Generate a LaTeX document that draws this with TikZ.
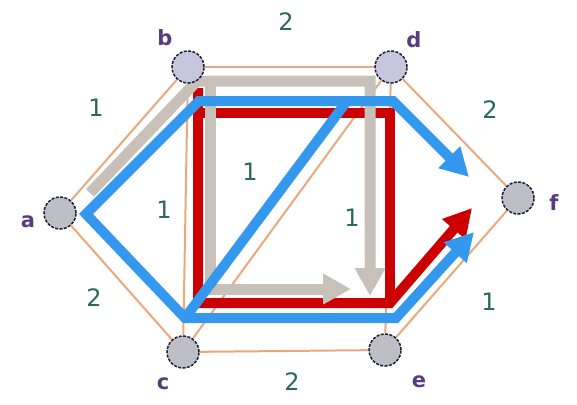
\documentclass[tikz,border=0pt]{standalone}
\usepackage{fontspec}
\setmainfont{DejaVu Sans}
\usetikzlibrary{arrows.meta}
\definecolor{edgeor}{RGB}{235,168,125}
\definecolor{pgray}{RGB}{200,193,186}
\definecolor{pred}{RGB}{204,0,0}
\definecolor{pblue}{RGB}{52,152,238}
\definecolor{vfill}{RGB}{190,190,198}
\definecolor{vfillb}{RGB}{198,198,220}
\definecolor{vline}{RGB}{30,30,60}
\definecolor{vlab}{RGB}{88,60,128}
\definecolor{wlab}{RGB}{44,104,92}
\pgfdeclarelayer{bg}
\pgfsetlayers{bg,main}
\tikzset{
  vtx/.style={circle, minimum size=32pt, inner sep=0pt, draw=vline, line width=1.5pt,
    dash pattern=on 3pt off 1.4pt, fill=vfill},
  vtxb/.style={vtx, fill=vfillb},
  vname/.style={text=vlab, font=\fontsize{21}{23}\selectfont\bfseries, inner sep=0pt},
  wname/.style={text=wlab, font=\fontsize{24}{26}\selectfont, inner sep=0pt},
  gedge/.style={draw=edgeor, line width=2pt},
  tip/.style={-{Triangle[length=28pt,width=29pt]}},
  gpath/.style={draw=pgray, line width=11pt, line join=miter},
  rpath/.style={draw=pred, line width=10pt, line join=miter},
  bpath/.style={draw=pblue, line width=10pt, line join=miter},
}
\begin{document}
\begin{tikzpicture}[x=1pt,y=-1pt]
\useasboundingbox (0,0) rectangle (577,404);
% vertices
\node[vtx]  (a) at (60,213) {};
\node[vtxb] (b) at (188,67) {};
\node[vtx]  (c) at (183,352) {};
\node[vtxb] (d) at (391,67) {};
\node[vtx]  (e) at (385,350) {};
\node[vtx]  (f) at (518,198) {};
% vertex names
\node[vname] (la) at (28,222) {a};
\node[vname] (lb) at (165,38) {b};
\node[vname] (lc) at (163,384) {c};
\node[vname] (ld) at (414,40) {d};
\node[vname] (le) at (419,382) {e};
\node[vname] (lf) at (554,203) {f};
% weights
\node[wname] (wab) at (96,108) {1};
\node[wname] (wbd) at (286,22) {2};
\node[wname] (wdf) at (490,110) {2};
\node[wname] (wcd) at (250,172) {1};
\node[wname] (wbc) at (164,210) {1};
\node[wname] (wde) at (352,218) {1};
\node[wname] (wac) at (94,298) {2};
\node[wname] (wce) at (292,382) {2};
\node[wname] (wef) at (489,302) {1};
% bend points
\coordinate (gA) at (90,193);
\coordinate (gB) at (197,81);
\coordinate (gC) at (370,81);
\coordinate (gD) at (370,296);
\coordinate (gE) at (210,81);
\coordinate (gF) at (210,289);
\coordinate (gG) at (351,289);
\coordinate (rA) at (198,88);
\coordinate (rB) at (198,303);
\coordinate (rC) at (390,303);
\coordinate (rD) at (472,208);
\coordinate (rE) at (198,113);
\coordinate (rF) at (390,113);
\coordinate (bA) at (199,101);
\coordinate (bB) at (86,214);
\coordinate (bC) at (185,318);
\coordinate (bD) at (396,318);
\coordinate (bE) at (474,232);
\coordinate (bF) at (393,101);
\coordinate (bG) at (469,177);
\coordinate (bH) at (347,101);
\begin{pgfonlayer}{bg}
  % graph edges
  \draw[gedge] (a) -- (b);
  \draw[gedge] (a) -- (c);
  \draw[gedge] (b) -- (d);
  \draw[gedge] (b) -- (c);
  \draw[gedge] (c) -- (d);
  \draw[gedge] (d) -- (e);
  \draw[gedge] (d) -- (f);
  \draw[gedge] (c) -- (e);
  \draw[gedge] (e) -- (f);
  % red paths
  \draw[rpath] (rE) -- (rF) -- (rC);
  \draw[rpath, tip] (rA) -- (rB) -- (rC) -- (rD);
  % gray paths
  \draw[gpath, tip] (gA) -- (gB) -- (gC) -- (gD);
  \draw[gpath, tip] (gE) -- (gF) -- (gG);
  % blue paths
  \draw[bpath] (bC) -- (bH);
  \draw[bpath, {Triangle[length=28pt,width=29pt]}-{Triangle[length=28pt,width=29pt]}]
    (bG) -- (bF) -- (bA) -- (bB) -- (bC) -- (bD) -- (bE);
\end{pgfonlayer}
\end{tikzpicture}
\end{document}
